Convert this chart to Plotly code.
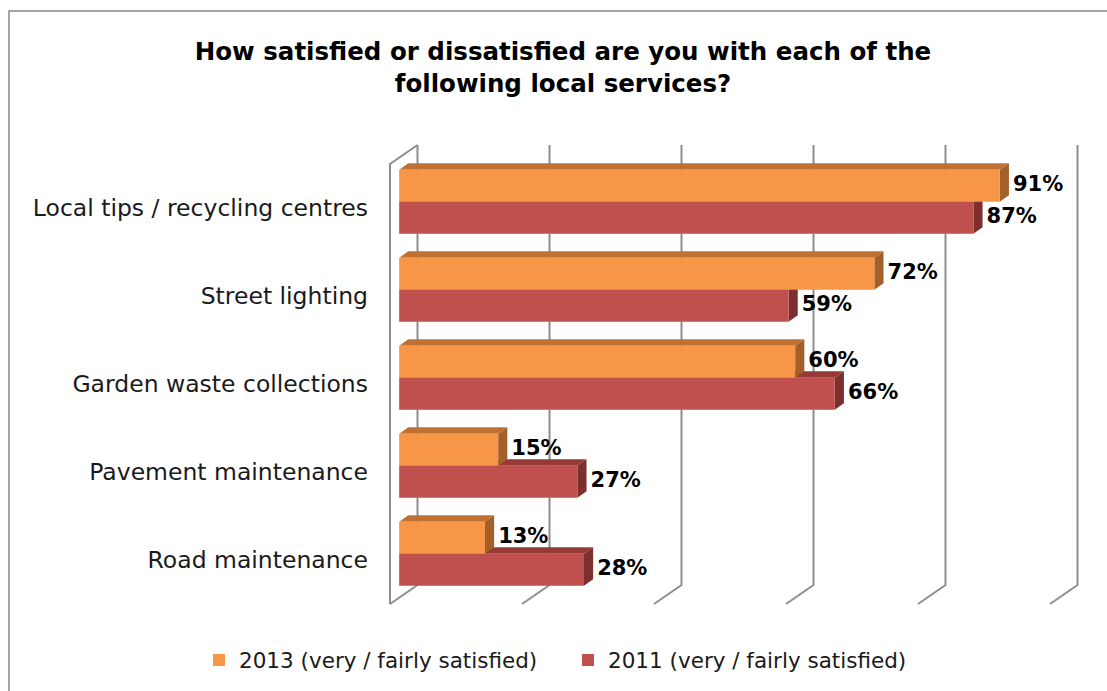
import plotly.graph_objects as go

# ---- data -------------------------------------------------------------
categories = [
    "Local tips / recycling centres",
    "Street lighting",
    "Garden waste collections",
    "Pavement maintenance",
    "Road maintenance",
]
sat_2013 = [91, 72, 60, 15, 13]
sat_2011 = [87, 59, 66, 27, 28]
series_names = ["2013 (very / fairly satisfied)", "2011 (very / fairly satisfied)"]
grid_vals = [0, 20, 40, 60, 80, 100]

# ---- styling ----------------------------------------------------------
FONT = "DejaVu Sans"
GRID_COLOR = "#8e8e8e"
# (front, top, side) colours of each extruded bar series
STYLE_2013 = ("#F79646", "#BF7133", "#A4602B")
STYLE_2011 = ("#C0504D", "#963A38", "#7D2F2D")

# ---- pseudo-3D projection --------------------------------------------
W, H = 1107, 691
M_L, M_R, M_T, M_B = 385, 0, 120, 76
PX_PER_PCT = 6.6           # horizontal pixels per percentage point
PX_PER_CAT = 88            # vertical pixels per category slot
ORIGIN_X = 390             # pixel x of 0 % on the front plane
FIRST_CAT_Y = 208          # pixel y of the first category on the front plane
DEPTH_X = 27.5 / PX_PER_PCT    # depth shift, in axis units
DEPTH_Y = 19.0 / PX_PER_CAT
BAR_H = 32.0 / PX_PER_CAT      # thickness of one bar, in category units
D_FRONT, D_BACK = 1 / 3, 2 / 3  # depth slice occupied by the bars
LABEL_PAD = 4.0 / PX_PER_PCT    # gap between a bar end and its value label


def proj(v, c, d):
    """Project (value, category position, depth 0..1) onto the 2-D axes."""
    return v + DEPTH_X * d, c - DEPTH_Y * d


def poly(points):
    xs, ys = zip(*[proj(*p) for p in points])
    return list(xs) + [xs[0]], list(ys) + [ys[0]]


fig = go.Figure()

# ---- walls, floor and gridlines ---------------------------------------
top_c, bot_c = -0.5, len(categories) - 0.5
for v in grid_vals:
    pts = [(v, top_c, 1), (v, bot_c, 1), (v, bot_c, 0)]
    if v == grid_vals[0]:
        pts += [(v, top_c, 0), (v, top_c, 1)]
    xs, ys = zip(*[proj(*p) for p in pts])
    fig.add_trace(go.Scatter(
        x=xs, y=ys, mode="lines", line=dict(color=GRID_COLOR, width=2),
        hoverinfo="skip", showlegend=False))


# ---- extruded bars ----------------------------------------------------
def add_bar_series(values, slot, colors):
    front, top, side = colors
    for i, v in enumerate(values):
        y0 = i - BAR_H + slot * BAR_H      # upper edge on the front plane
        y1 = y0 + BAR_H
        faces = [
            ([(0, y0, D_FRONT), (v, y0, D_FRONT), (v, y0, D_BACK), (0, y0, D_BACK)], top),
            ([(v, y0, D_FRONT), (v, y1, D_FRONT), (v, y1, D_BACK), (v, y0, D_BACK)], side),
            ([(0, y0, D_FRONT), (v, y0, D_FRONT), (v, y1, D_FRONT), (0, y1, D_FRONT)], front),
        ]
        for pts, col in faces:
            xs, ys = poly(pts)
            fig.add_trace(go.Scatter(
                x=xs, y=ys, mode="lines", fill="toself", fillcolor=col,
                line=dict(width=0, color=col), hoverinfo="skip", showlegend=False))


def add_value_labels(values, slot):
    xs, ys = [], []
    for i, v in enumerate(values):
        x, y = proj(v, i - BAR_H / 2 + slot * BAR_H, D_FRONT)
        xs.append(x + DEPTH_X * (D_BACK - D_FRONT) + LABEL_PAD)
        ys.append(y)
    fig.add_trace(go.Scatter(
        x=xs, y=ys, mode="text", text=[f"<b>{v}%</b>" for v in values],
        textposition="middle right",
        textfont=dict(family=FONT, size=21, color="#000000"),
        hoverinfo="skip", showlegend=False, cliponaxis=False))


# lower bar first so the upper bar sits on top of it
add_bar_series(sat_2011, 1, STYLE_2011)
add_bar_series(sat_2013, 0, STYLE_2013)
add_value_labels(sat_2011, 1)
add_value_labels(sat_2013, 0)

# legend entries, one legend box per series
for name, colors, lg in zip(series_names, (STYLE_2013, STYLE_2011), ("legend", "legend2")):
    fig.add_trace(go.Bar(x=[None], y=[None], name=name, orientation="h", legend=lg,
                         marker=dict(color=colors[0], line=dict(width=0))))

# ---- axes ------------------------------------------------------------
plot_w = W - M_L - M_R
plot_h = H - M_T - M_B
x_min = (M_L - ORIGIN_X) / PX_PER_PCT
x_max = x_min + plot_w / PX_PER_PCT
y_top = (M_T - FIRST_CAT_Y) / PX_PER_CAT
y_bot = y_top + plot_h / PX_PER_CAT

fig.update_xaxes(range=[x_min, x_max], showgrid=False, zeroline=False,
                 showticklabels=False, showline=False, fixedrange=True)
fig.update_yaxes(range=[y_bot, y_top], showgrid=False, zeroline=False,
                 showline=False, tickmode="array",
                 tickvals=list(range(len(categories))), ticktext=categories,
                 ticks="", ticklabelstandoff=16,
                 tickfont=dict(family=FONT, size=23.5, color="#1a1a1a"),
                 fixedrange=True)

# chart frame
fig.add_shape(type="rect", xref="paper", yref="paper",
              x0=(9 - M_L) / plot_w, x1=(1120 - M_L) / plot_w,
              y0=(H - M_B - 705) / plot_h, y1=(H - M_B - 11) / plot_h,
              line=dict(color="#888888", width=1.5), layer="below")

legend_style = dict(orientation="h", xref="container", yref="container",
                    xanchor="left", y=1 - 660 / H, yanchor="middle",
                    font=dict(family=FONT, size=21.5, color="#1a1a1a"),
                    itemwidth=30, bgcolor="rgba(0,0,0,0)")

fig.update_layout(
    width=W, height=H,
    margin=dict(l=M_L, r=M_R, t=M_T, b=M_B),
    paper_bgcolor="white", plot_bgcolor="white",
    title=dict(
        text="<b>How satisfied or dissatisfied are you with each of the<br>following local services?</b>",
        x=563 / W, xanchor="center", y=1 - 60 / H, yanchor="middle", yref="container",
        font=dict(family=FONT, size=24.5, color="#000000")),
    legend=dict(x=199 / W, **legend_style),
    legend2=dict(x=568 / W, **legend_style),
    barmode="overlay",
)

fig.write_html("out.html")
